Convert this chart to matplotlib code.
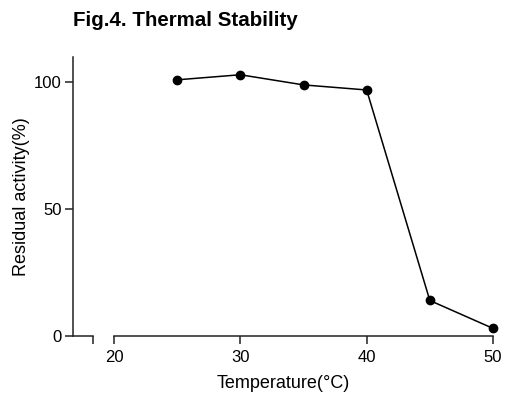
import matplotlib.pyplot as plt

plt.rcParams['font.family'] = ['Liberation Sans', 'DejaVu Sans']

temperature = [25, 30, 35, 40, 45, 50]
residual_activity = [101, 103, 99, 97, 14, 3]
x_ticks = [20, 30, 40, 50]
y_ticks = [0, 50, 100]

fig = plt.figure(figsize=(5.15, 3.94), dpi=100)

# broken x axis: short stub on the left, main axis on the right
ax_stub = fig.add_axes([73 / 515, 1 - 336 / 394, 20 / 515, 279 / 394])
ax = fig.add_axes([114 / 515, 1 - 336 / 394, 379 / 515, 279 / 394], sharey=ax_stub)

ax.plot(temperature, residual_activity, color='black', lw=1.1,
        marker='o', markersize=6, clip_on=False, zorder=3)
ax.set_xlim(20, 50)
ax.set_ylim(0, 110)
ax.set_xticks(x_ticks)
ax.set_yticks(y_ticks)

for a in (ax_stub, ax):
    a.spines['top'].set_visible(False)
    a.spines['right'].set_visible(False)
    for s in a.spines.values():
        s.set_linewidth(1.1)
        s.set_color('#222222')
    a.tick_params(width=1.1, length=6, labelsize=12, color='#222222', pad=4)
    a.patch.set_alpha(0)

ax.spines['left'].set_visible(False)
ax.tick_params(axis='y', left=False, labelleft=False)
ax_stub.tick_params(axis='y', pad=2)

ax_stub.set_xlim(0, 1)
ax_stub.set_xticks([1])
ax_stub.set_xticklabels([''])
ax_stub.set_ylabel('Residual activity(%)', fontsize=13, labelpad=3)

# x label centred over the whole broken axis
fig.text(283 / 515, 1 - 383 / 394, 'Temperature(°C)', fontsize=13,
         ha='center', va='center')

fig.text(73 / 515, 1 - 21 / 394, 'Fig.4. Thermal Stability', fontsize=14.8,
         fontweight='bold', va='center', ha='left')

fig.savefig('out.png', dpi=100)
